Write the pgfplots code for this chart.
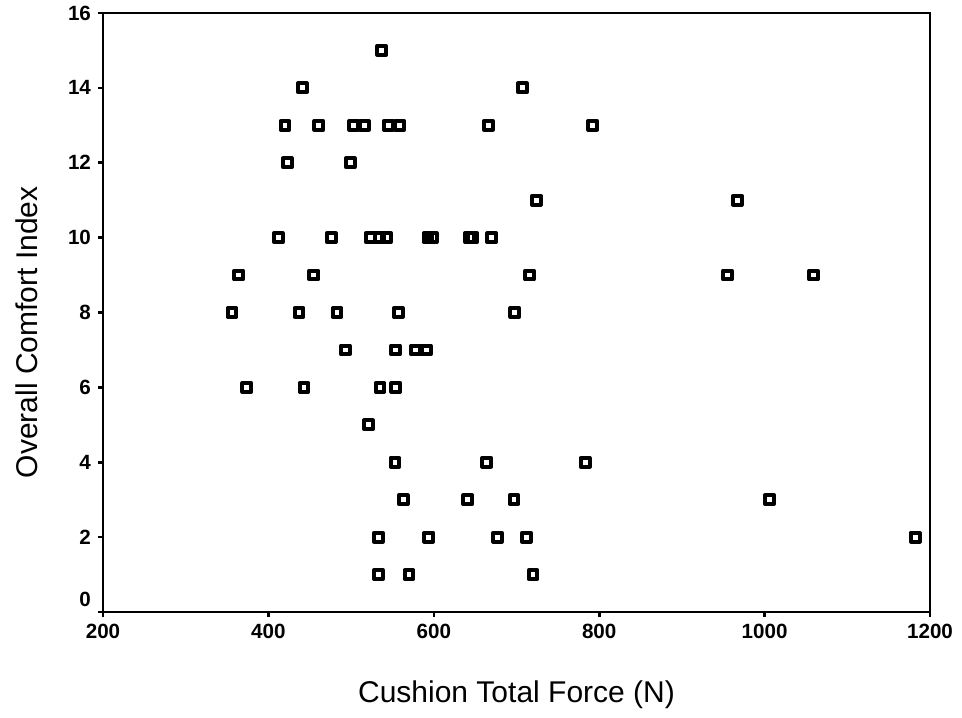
\documentclass[border=0pt]{standalone}
\usepackage{fontspec}
\setmainfont{Liberation Sans}
\usepackage{pgfplots}
\pgfplotsset{compat=1.18}
\begin{document}
\begin{tikzpicture}
\begin{axis}[
  at={(0,0)}, anchor=south west,
  scale only axis, width=413.5pt, height=299.5pt,
  xmin=200, xmax=1200, ymin=0, ymax=16,
  xtick={200,400,...,1200}, ytick={2,4,...,16},
  extra y ticks={0},
  extra y tick style={yticklabel style={yshift=6.5pt}},
  xtick pos=lower, ytick pos=left,
  tick align=outside, major tick length=2.5pt,
  tick style={line width=1.3pt, black},
  axis line style={line width=1.3pt},
  /pgf/number format/assume math mode=true,
  /pgf/number format/1000 sep={},
  ticklabel style={font=\bfseries\fontsize{10.3}{12}\selectfont},
  xlabel={Cushion Total Force (N)},
  ylabel={Overall Comfort Index},
  label style={font=\fontsize{15}{18}\selectfont},
  xlabel style={at={(axis description cs:0.5,-0.1519)}, anchor=base},
  ylabel style={at={(axis description cs:-0.0798,0.467)}, anchor=base},
  clip=false,
]
\addplot[only marks, black, mark=square, mark size=2.2pt,
  mark options={line width=2pt, fill=white, line join=round}]
  table {
x y
537 15
441 14
707 14
420 13
461 13
503 13
516 13
545 13
559 13
666 13
792 13
423 12
499 12
724 11
967 11
412 10
476 10
523 10
534 10
543 10
593 10
598 10
643 10
647 10
670 10
364 9
455 9
716 9
955 9
1059 9
356 8
437 8
483 8
557 8
698 8
493 7
554 7
578 7
591 7
374 6
443 6
535 6
554 6
521 5
553 4
664 4
783 4
563 3
641 3
697 3
1006 3
533 2
594 2
677 2
712 2
1182 2
533 1
570 1
720 1
};
\end{axis}
\pgfresetboundingbox
\useasboundingbox (-51.5pt,-52.5pt) rectangle (429.5pt,306pt);
\end{tikzpicture}
\end{document}
